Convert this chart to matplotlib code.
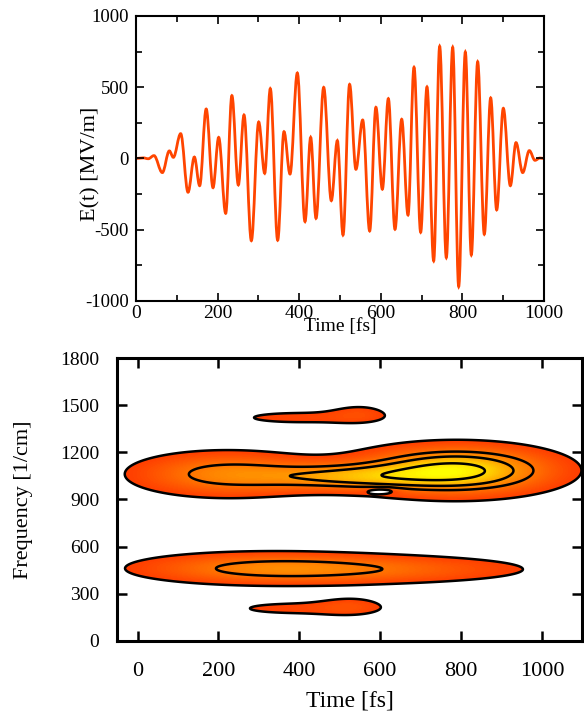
import numpy as np
import matplotlib
matplotlib.use('Agg')
import matplotlib.pyplot as plt
from matplotlib.path import Path
from matplotlib.patches import PathPatch
from matplotlib.colors import LinearSegmentedColormap
from matplotlib.ticker import MultipleLocator

plt.rcParams['font.family'] = ['Liberation Serif', 'DejaVu Serif']
plt.rcParams['axes.unicode_minus'] = False

# E(t): times [fs] and values [MV/m] of the turning points of the field
peak_t = [0, 18, 30, 44, 64.5, 81.7, 91.5, 109.5, 127.5, 143, 156, 172, 188.7,
          202.6, 219.8, 235, 250.8, 264.7, 282.7, 300.7, 315.4, 329.2, 347.2,
          362.7, 377.5, 395.4, 414.2, 428.1, 441.2, 460, 478.7, 493.5, 507.4,
          523.5, 539, 555.6, 572.7, 588, 603.8, 618.5, 634.8, 651.2, 666.7,
          681.4, 697.7, 713.2, 729.6, 744.3, 760.6, 776.2, 790.9, 807.2, 821.9,
          837.4, 853.7, 869.3, 884, 900.3, 917.5, 931.4, 947.8, 964, 978, 990, 1000]
peak_e = [0, 4, -2, 20, -99, 53, 8, 174, -237, 10, -191, 347, -205,
          148, -385, 441, -186, 305, -577, 256, -104, 490, -574,
          188, -109, 600, -443, 148, -420, 499, -296, 125, -537,
          520, -76, 270, -509, 359, -216, 420, -497, 275, -397,
          640, -518, 502, -719, 787, -696, 780, -899, 747, -677,
          679, -532, 425, -361, 352, -191, 111, -99, 55, -13, 3, 0]

# spectrogram: blobs (centre time, centre freq, widths, height)
blob_t0 = [220, 520, 789, 300, 600, 550, 400, 530, 390, 603]
blob_f0 = [1062, 1045, 1085, 462, 455, 1450, 1422, 222, 206, 955]
blob_st = [145, 140, 150, 200, 250, 52, 140, 58, 140, 28]
blob_sf = [88, 55, 95, 64, 58, 45, 36, 46, 36, 13]
blob_amp = [0.54, 0.56, 1.0, 0.42, 0.32, 0.15, 0.165, 0.15, 0.165, -0.3]

line_levels = [0.12, 0.45, 0.65, 0.92]

fig = plt.figure(figsize=(5.84, 7.19), dpi=100)

# ---- top panel
ax1 = fig.add_axes([0.2329, 0.5814, 0.6986, 0.3964])
verts = [(peak_t[0], peak_e[0])]
codes = [Path.MOVETO]
for i in range(1, len(peak_t)):
    ta, tb = peak_t[i - 1], peak_t[i]
    h = 0.36 * (tb - ta)
    verts += [(ta + h, peak_e[i - 1]), (tb - h, peak_e[i]), (tb, peak_e[i])]
    codes += [Path.CURVE4] * 3
ax1.add_patch(PathPatch(Path(verts, codes), fill=False, ec='#ff4500', lw=2.0))

ax1.set_xlim(0, 1000)
ax1.set_ylim(-1000, 1000)
ax1.xaxis.set_major_locator(MultipleLocator(200))
ax1.xaxis.set_minor_locator(MultipleLocator(100))
ax1.yaxis.set_major_locator(MultipleLocator(500))
ax1.yaxis.set_minor_locator(MultipleLocator(250))
ax1.tick_params(which='both', direction='in', top=True, right=True, width=1.2)
ax1.tick_params(which='major', length=6)
ax1.tick_params(which='minor', length=4)
ax1.tick_params(axis='x', labelsize=14, pad=3)
ax1.tick_params(axis='y', labelsize=13.5, pad=5)
for sp in ax1.spines.values():
    sp.set_linewidth(1.5)
ax1.set_xlabel('Time [fs]', fontsize=14)
ax1.xaxis.set_label_coords(0.5, -0.06)
ax1.set_ylabel('E(t) [MV/m]', fontsize=16)
ax1.yaxis.set_label_coords(-0.086, 0.48)

# ---- bottom panel
ax2 = fig.add_axes([0.2009, 0.1089, 0.7962, 0.3928])
t = np.linspace(-50, 1100, 576)
f = np.linspace(0, 1800, 601)
T, F = np.meshgrid(t, f)
Z = np.zeros_like(T)
for t0, f0, st, sf, a in zip(blob_t0, blob_f0, blob_st, blob_sf, blob_amp):
    Z += a * np.exp(-(T - t0) ** 2 / (2 * st ** 2) - (F - f0) ** 2 / (2 * sf ** 2))

cmap = LinearSegmentedColormap.from_list('ry', ['#ff3c00', '#ff8c00', '#ffff00'])
fill_levels = np.linspace(line_levels[0], Z.max(), 60)
ax2.contourf(T, F, Z, levels=fill_levels, cmap=cmap)
ax2.contour(T, F, Z, levels=line_levels, colors='k', linewidths=1.8)

ax2.set_xlim(-50, 1100)
ax2.set_ylim(0, 1800)
ax2.set_xticks(np.arange(0, 1001, 200))
ax2.set_yticks(np.arange(0, 1801, 300))
ax2.tick_params(direction='in', top=True, right=True, length=7, width=1.8)
ax2.tick_params(axis='x', labelsize=16, pad=15)
ax2.tick_params(axis='y', labelsize=14, pad=13)
for sp in ax2.spines.values():
    sp.set_linewidth(2.2)
ax2.set_xlabel('Time [fs]', fontsize=17)
ax2.xaxis.set_label_coords(0.5, -0.175)
ax2.set_ylabel('Frequency [1/cm]', fontsize=16)
ax2.yaxis.set_label_coords(-0.181, 0.5)

fig.savefig('out.png', dpi=100)
